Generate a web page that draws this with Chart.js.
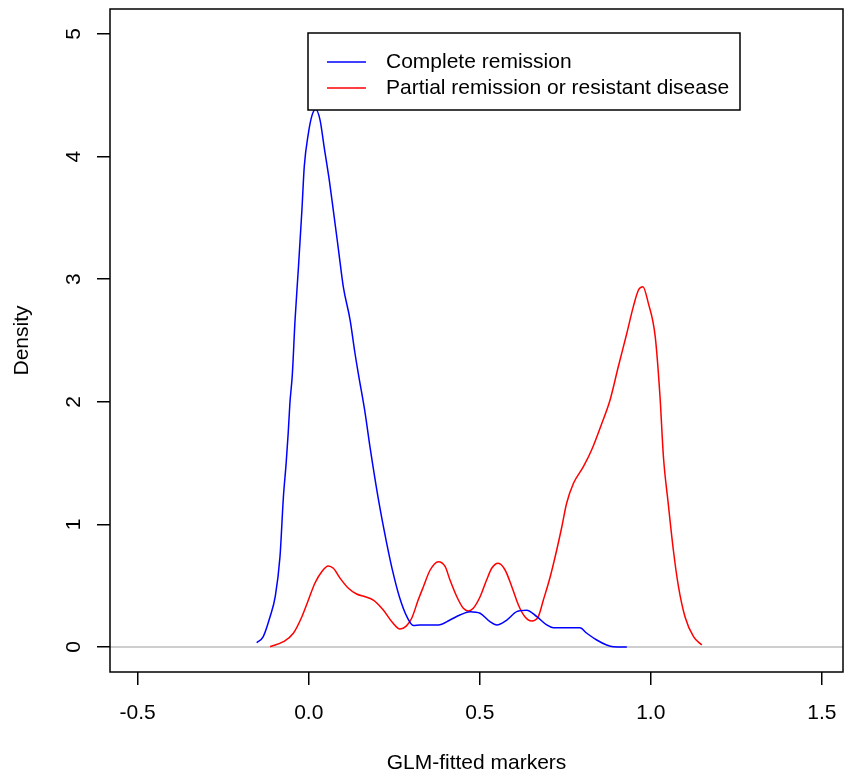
<!DOCTYPE html>
<html>
<head>
<meta charset="utf-8">
<script src="https://cdn.jsdelivr.net/npm/chart.js@4"></script>
<style>
  body { margin: 0; background: #fff; }
  canvas { display: block; }
</style>
</head>
<body>
<canvas id="chart" width="844" height="774"></canvas>
<script>
  const seriesNames = ['Complete remission', 'Partial remission or resistant disease'];
  const seriesColors = ['#0000ff', '#ff0000'];

  // density of fitted values, complete remission
  const cxX = [-0.152, -0.133, -0.113, -0.098, -0.084, -0.074, -0.066, -0.060, -0.055, -0.048, -0.040, -0.030, -0.020, -0.013, -0.001,
    0.009, 0.020, 0.033, 0.045, 0.060, 0.072, 0.087, 0.101, 0.121, 0.135, 0.145, 0.165, 0.179, 0.204, 0.228, 0.247, 0.265, 0.287,
    0.306, 0.325, 0.379, 0.413, 0.442, 0.472, 0.501, 0.530, 0.550, 0.579, 0.608, 0.637, 0.667, 0.696, 0.715, 0.793, 0.813, 0.842,
    0.871, 0.891, 0.930];
  const cxY = [0.035, 0.084, 0.247, 0.41, 0.737, 1.226, 1.5, 1.746, 1.99, 2.22, 2.667, 3.10, 3.56, 3.92, 4.19,
    4.33, 4.386, 4.30, 4.08, 3.81, 3.56, 3.24, 2.94, 2.667, 2.40, 2.23, 1.906, 1.634, 1.20, 0.846, 0.60, 0.41, 0.247,
    0.175, 0.18, 0.18, 0.22, 0.261, 0.288, 0.275, 0.206, 0.18, 0.22, 0.288, 0.30, 0.247, 0.18, 0.157, 0.157, 0.112, 0.057,
    0.016, 0.002, 0.0];

  // partial remission or resistant disease
  const prX = [-0.113, -0.074, -0.045, -0.020, -0.001, 0.018, 0.038, 0.057, 0.072, 0.092, 0.116, 0.140, 0.165, 0.189, 0.218,
    0.243, 0.267, 0.285, 0.301, 0.320, 0.335, 0.355, 0.379, 0.399, 0.413, 0.433, 0.452, 0.467, 0.481, 0.501, 0.520, 0.535,
    0.554, 0.574, 0.594, 0.613, 0.632, 0.652, 0.671, 0.686, 0.706, 0.725, 0.740, 0.754, 0.774, 0.803, 0.827, 0.857, 0.881,
    0.905, 0.930, 0.949, 0.964, 0.977, 0.993, 1.013, 1.027, 1.037, 1.051, 1.066, 1.081, 1.100, 1.125, 1.149];
  const prY = [0.002, 0.043, 0.112, 0.247, 0.383, 0.52, 0.614, 0.661, 0.642, 0.56, 0.479, 0.432, 0.41, 0.383, 0.302,
    0.206, 0.147, 0.17, 0.234, 0.383, 0.49, 0.628, 0.696, 0.655, 0.546, 0.41, 0.316, 0.294, 0.316, 0.41, 0.546, 0.642,
    0.683, 0.628, 0.49, 0.343, 0.247, 0.212, 0.247, 0.383, 0.573, 0.791, 0.981, 1.172, 1.335, 1.471, 1.607, 1.825, 2.015,
    2.286, 2.559, 2.776, 2.912, 2.939, 2.803, 2.531, 2.042, 1.552, 1.172, 0.791, 0.492, 0.247, 0.084, 0.016];

  const xTicks = [-0.5, 0.0, 0.5, 1.0, 1.5];
  const yTicks = [0, 1, 2, 3, 4, 5];

  const FONT = 'Liberation Sans, Arial, sans-serif';

  function pts(xs, ys) {
    return xs.map((x, i) => ({ x: x, y: ys[i] }));
  }

  // fixed axis sizes, no extra room for overhanging labels
  function fixSize(s, w, h) {
    if (w) s.width = w;
    if (h) s.height = h;
    s.paddingLeft = s.paddingRight = s.paddingTop = s.paddingBottom = 0;
  }

  const rFrame = {
    id: 'rFrame',
    beforeDatasetsDraw(chart) {
      const { ctx, chartArea: a, scales } = chart;
      const y0 = scales.y.getPixelForValue(0);
      ctx.save();
      ctx.strokeStyle = '#bebebe';
      ctx.lineWidth = 1.5;
      ctx.beginPath();
      ctx.moveTo(a.left, y0);
      ctx.lineTo(a.right, y0);
      ctx.stroke();
      ctx.restore();
    },
    afterDraw(chart) {
      const { ctx, chartArea: a } = chart;
      ctx.save();
      ctx.strokeStyle = '#000';
      ctx.lineWidth = 1.5;
      ctx.strokeRect(a.left, a.top, a.right - a.left, a.bottom - a.top);

      // legend box
      const bx = 308, by = 33, bw = 432, bh = 77;
      ctx.fillStyle = '#fff';
      ctx.fillRect(bx, by, bw, bh);
      ctx.strokeRect(bx, by, bw, bh);
      ctx.font = '21px ' + FONT;
      ctx.textBaseline = 'middle';
      chart.data.datasets.forEach((ds, i) => {
        const ly = 62 + i * 26;
        ctx.strokeStyle = ds.borderColor;
        ctx.beginPath();
        ctx.moveTo(327, ly);
        ctx.lineTo(366, ly);
        ctx.stroke();
        ctx.fillStyle = '#000';
        ctx.fillText(ds.label, 386, ly);
      });
      ctx.restore();
    }
  };

  new Chart(document.getElementById('chart'), {
    type: 'scatter',
    data: {
      datasets: [
        { label: seriesNames[0], data: pts(cxX, cxY), borderColor: seriesColors[0] },
        { label: seriesNames[1], data: pts(prX, prY), borderColor: seriesColors[1] }
      ]
    },
    options: {
      responsive: false,
      animation: false,
      layout: { padding: { top: 9, right: 1, left: 0, bottom: 0 } },
      elements: {
        point: { radius: 0 },
        line: { borderWidth: 1.5, cubicInterpolationMode: 'monotone' }
      },
      datasets: { scatter: { showLine: true } },
      plugins: { legend: { display: false }, tooltip: { enabled: false } },
      scales: {
        x: {
          type: 'linear',
          min: -0.581,
          max: 1.562,
          afterFit: s => fixSize(s, 0, 102),
          afterBuildTicks: s => { s.ticks = xTicks.map(v => ({ value: v })); },
          border: { display: false },
          grid: { drawOnChartArea: false, drawTicks: true, tickLength: 13, color: '#000', lineWidth: 1.5 },
          ticks: {
            padding: 16,
            color: '#000',
            font: { family: FONT, size: 21 },
            maxRotation: 0,
            callback: v => v.toFixed(1)
          },
          title: {
            display: true,
            text: 'GLM-fitted markers',
            color: '#000',
            font: { family: FONT, size: 21 },
            padding: { top: 0, bottom: -2 }
          }
        },
        y: {
          type: 'linear',
          min: -0.204,
          max: 5.204,
          afterFit: s => fixSize(s, 110, 0),
          afterBuildTicks: s => { s.ticks = yTicks.map(v => ({ value: v })); },
          border: { display: false },
          grid: { drawOnChartArea: false, drawTicks: true, tickLength: 13, color: '#000', lineWidth: 1.5 },
          ticks: {
            padding: 17,
            color: '#000',
            font: { family: FONT, size: 21 },
            minRotation: 90,
            maxRotation: 90,
            crossAlign: 'center',
            callback: v => String(v)
          },
          title: {
            display: true,
            text: 'Density',
            color: '#000',
            font: { family: FONT, size: 21 },
            padding: { top: 10, bottom: 0 }
          }
        }
      }
    },
    plugins: [rFrame]
  });
</script>
</body>
</html>
